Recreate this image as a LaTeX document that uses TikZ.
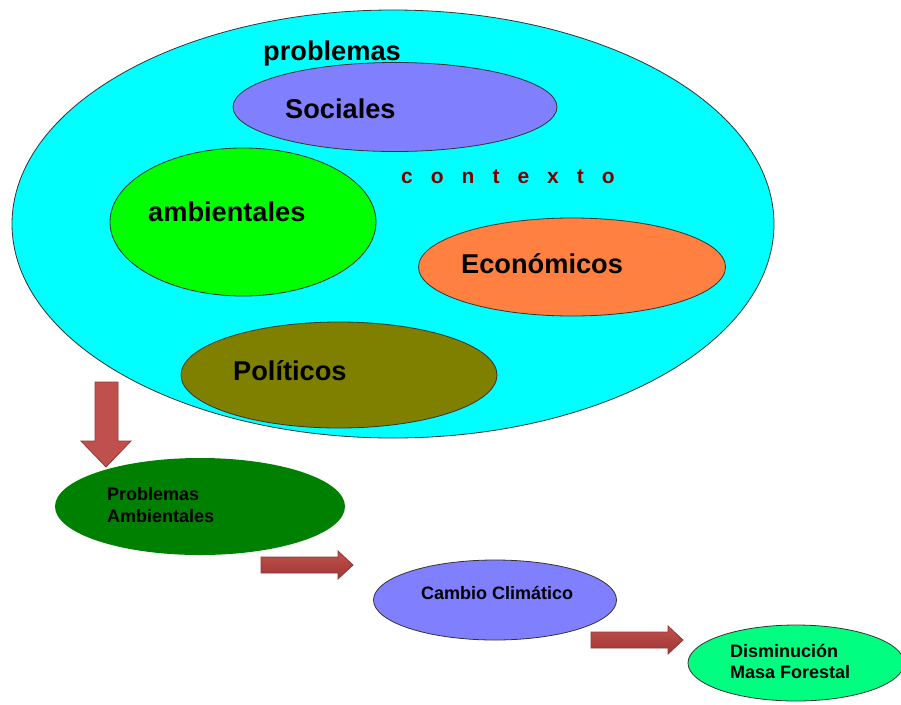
\documentclass[tikz,border=0pt]{standalone}
\usepackage{fontspec}
\setmainfont{Liberation Sans}
\usetikzlibrary{shapes.geometric}
\definecolor{cyanbg}{HTML}{00FFFF}
\definecolor{socc}{HTML}{8080FF}
\definecolor{ambc}{HTML}{00FF00}
\definecolor{ecoc}{HTML}{FF8040}
\definecolor{polc}{HTML}{808000}
\definecolor{pac}{HTML}{008000}
\definecolor{disc}{HTML}{00FF80}
\definecolor{ctxc}{HTML}{800000}
\definecolor{arrc}{HTML}{C0504D}
\definecolor{arrdark}{HTML}{A03634}
\definecolor{arredge}{HTML}{8C3A38}
\tikzset{
  blob/.style={ellipse, draw=black!80, line width=0.8pt, inner sep=0pt},
  bigtxt/.style={anchor=base west, inner sep=0pt, font=\fontsize{27.2}{31}\selectfont\bfseries},
  smalltxt/.style={anchor=base west, inner sep=0pt, font=\fontsize{18}{21}\selectfont\bfseries},
  blockarrow/.style={draw=arredge, line width=0.8pt, line join=miter},
}
\begin{document}
\begin{tikzpicture}[x=1pt,y=-1pt]
\useasboundingbox (0,0) rectangle (901,704);
% outer
\node[blob, fill=cyanbg, minimum width=762pt, minimum height=428pt] (outer) at (393,224) {};
\node[blob, fill=socc, minimum width=324pt, minimum height=89pt] (soc) at (395,107) {};
\node[blob, fill=ambc, minimum width=266pt, minimum height=148pt] (amb) at (243,222) {};
\node[blob, fill=ecoc, minimum width=307pt, minimum height=98pt] (eco) at (572,267) {};
\node[blob, fill=polc, minimum width=316pt, minimum height=106pt] (pol) at (339,375) {};
\node[bigtxt] (tprob) at (263,60) {problemas};
\node[bigtxt] (tsoc) at (285,118) {Sociales};
\node[bigtxt] (tamb) at (148,221) {ambientales};
\node[bigtxt] (teco) at (461,273) {Económicos};
\node[bigtxt] (tpol) at (233,380) {Políticos};
\node[anchor=base west, inner sep=0pt, text=ctxc, font=\fontsize{21}{24}\selectfont\bfseries] (tctx) at (401,183)
  {c\kern18pto\kern18ptn\kern18ptt\kern18pte\kern18ptx\kern18ptt\kern18pto};
% lower chain
\node[ellipse, fill=pac, inner sep=0pt, minimum width=290pt, minimum height=97pt] (pa) at (200,506.5) {};
\node[blob, fill=socc, minimum width=243pt, minimum height=80pt] (cc) at (495,600) {};
\node[blob, fill=disc, minimum width=216pt, minimum height=76pt] (dm) at (796,663) {};
\node[smalltxt] (tpa) at (107,500) {Problemas};
\node[smalltxt] (tpa2) at (107,522) {Ambientales};
\node[smalltxt] (tcc) at (421,599) {Cambio Climático};
\node[smalltxt] (tdm) at (730,657) {Disminución};
\node[smalltxt] (tdm2) at (730,678) {Masa Forestal};
% arrows
\draw[blockarrow, fill=arrc]
  (95,382) -- (118,382) -- (118,441) -- (131,441) -- (106,467) -- (81,441) -- (95,441) -- cycle;
\draw[blockarrow, top color=arrc, bottom color=arrdark]
  (261,557) -- (338,557) -- (338,551) -- (353,565) -- (338,579) -- (338,573) -- (261,573) -- cycle;
\draw[blockarrow, top color=arrc, bottom color=arrdark]
  (591,632) -- (668,632) -- (668,626) -- (683,640) -- (668,654) -- (668,648) -- (591,648) -- cycle;
\end{tikzpicture}
\end{document}
